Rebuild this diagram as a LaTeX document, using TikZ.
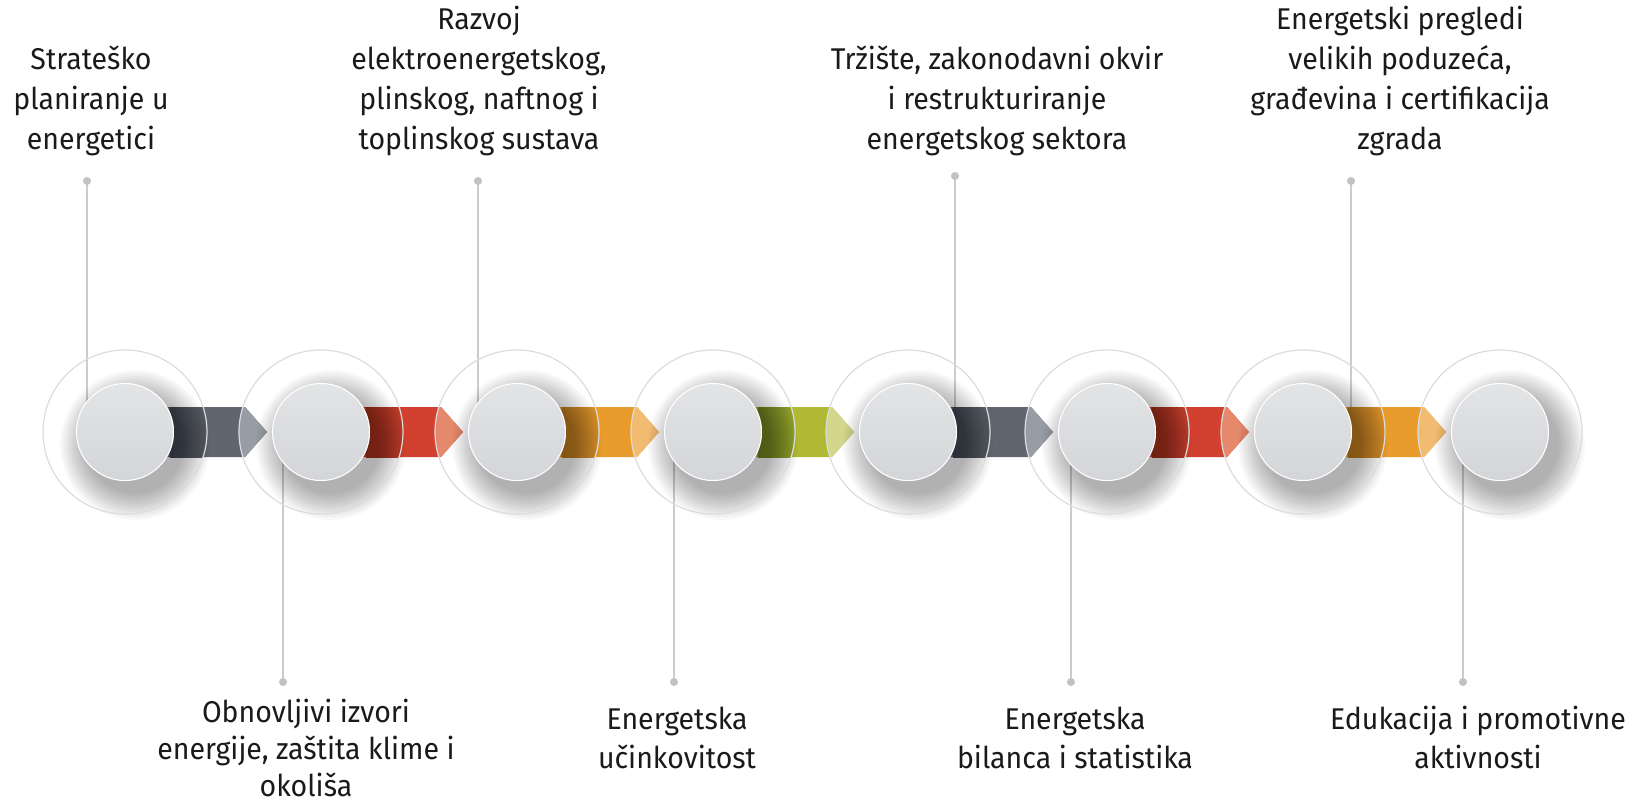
\documentclass[tikz,border=0pt]{standalone}
\usepackage{fontspec}
\setmainfont{Fira Sans}[FakeStretch=0.95]
\definecolor{gA1}{HTML}{474C55}
\definecolor{gA2}{HTML}{555B64}
\definecolor{gB}{HTML}{5F666F}
\definecolor{gC}{HTML}{989CA4}
\definecolor{rA1}{HTML}{A3331F}
\definecolor{rA2}{HTML}{BE3E2A}
\definecolor{rB}{HTML}{D2412F}
\definecolor{rC}{HTML}{E5886C}
\definecolor{oA1}{HTML}{C07F22}
\definecolor{oA2}{HTML}{D68F2A}
\definecolor{oB}{HTML}{E99C2C}
\definecolor{oC}{HTML}{F1BC72}
\definecolor{yA1}{HTML}{738423}
\definecolor{yA2}{HTML}{93A32A}
\definecolor{yB}{HTML}{B0B834}
\definecolor{yC}{HTML}{D3D68C}
\definecolor{ringcol}{HTML}{DCDCDC}
\definecolor{cTop}{HTML}{E3E4E6}
\definecolor{cBot}{HTML}{D3D5D8}
\definecolor{leadcol}{HTML}{CCCCCC}
\definecolor{dotcol}{HTML}{C2C2C2}
\definecolor{txtcol}{HTML}{1A1A1A}
\tikzset{
  leader/.style={leadcol, line width=2pt},
  dotst/.style={circle, fill=dotcol, inner sep=0pt, minimum size=8pt},
  lbl/.style={align=center, inner sep=0pt, text=txtcol, font=\fontsize{30}{40}\selectfont},
  lblb/.style={align=center, inner sep=0pt, text=txtcol, font=\fontsize{30}{39}\selectfont},
}
\begin{document}
\begin{tikzpicture}[x=1pt,y=-1pt]
\useasboundingbox (0,0) rectangle (1645,802);
\fill[white] (0,0) rectangle (1645,802);

% circle centres
\foreach \i/\x in {1/125,2/321,3/517,4/713,5/908,6/1107,7/1303,8/1500}
  \coordinate (c\i) at (\x,432);

% leader lines (behind everything)
\foreach \i/\x/\y in {1/87/181,3/478/181,5/955/176,7/1351/181,2/283/682,4/674/682,6/1071/682,8/1463/682}{
  \coordinate (p\i) at (\x,\y);
  \coordinate (q\i) at (\x,432);
  \draw[leader] (p\i) -- (q\i);
  \node[dotst] (d\i) at (p\i) {};
}

% arrow bands
\foreach \a/\b/\ka/\kb/\kc/\kd in {125/321/gA1/gA2/gB/gC,321/517/rA1/rA2/rB/rC,517/713/oA1/oA2/oB/oC,713/908/yA1/yA2/yB/yC,908/1107/gA1/gA2/gB/gC,1107/1303/rA1/rA2/rB/rC,1303/1500/oA1/oA2/oB/oC}{
  \fill[\kc] (\a,407) -- (\b-76,407) -- (\b-54,432) -- (\b-76,457) -- (\a,457) -- cycle;
  \begin{scope}
    \clip (\a,432) circle (82pt);
    \shade[left color=\ka, right color=\kb] (\a+45,407) rectangle (\a+83,457);
  \end{scope}
  \begin{scope}
    \clip (\b-76,407) -- (\b-54,432) -- (\b-76,457) -- (\b-100,457) -- (\b-100,407) -- cycle;
    \clip (\b,432) circle (82pt);
    \fill[\kd] (\b-100,407) rectangle (\b-50,457);
  \end{scope}
}

% circles
\foreach \x in {125,321,517,713,908,1107,1303,1500}{
  \foreach \k in {0,...,13}
    \fill[black, opacity=0.023] (\x+10,445) circle ({(49+2*\k)*1pt});
  \draw[ringcol, line width=1.2pt] (\x,432) circle (82pt);
  \shade[top color=cTop, bottom color=cBot] (\x,432) circle (49pt);
  \draw[white, line width=1pt] (\x,432) circle (48.5pt);
}

% labels
\node[lbl, anchor=south] (t1) at (91,162) {\strut Strateško\\\strut planiranje u\\\strut energetici};
\node[lbl, anchor=south] (t3) at (479,162) {\strut Razvoj\\\strut elektroenergetskog,\\\strut plinskog, naftnog i\\\strut toplinskog sustava};
\node[lbl, anchor=south] (t5) at (997,162) {\strut Tržište, zakonodavni okvir\\\strut i restrukturiranje\\\strut energetskog sektora};
\node[lbl, anchor=south] (t7) at (1400,162) {\strut Energetski pregledi\\\strut velikih poduzeća,\\\strut građevina i certifikacija\\\strut zgrada};
\node[align=center, inner sep=0pt, text=txtcol, font=\fontsize{30}{37}\selectfont, anchor=north] (b2) at (306,696) {\strut Obnovljivi izvori\\\strut energije, zaštita klime i\\okoliša};
\node[lblb, anchor=north] (b4) at (677,702) {\strut Energetska\\\strut učinkovitost};
\node[lblb, anchor=north] (b6) at (1075,702) {\strut Energetska\\\strut bilanca i statistika};
\node[lblb, anchor=north] (b8) at (1478,702) {\strut Edukacija i promotivne\\\strut aktivnosti};
\end{tikzpicture}
\end{document}
